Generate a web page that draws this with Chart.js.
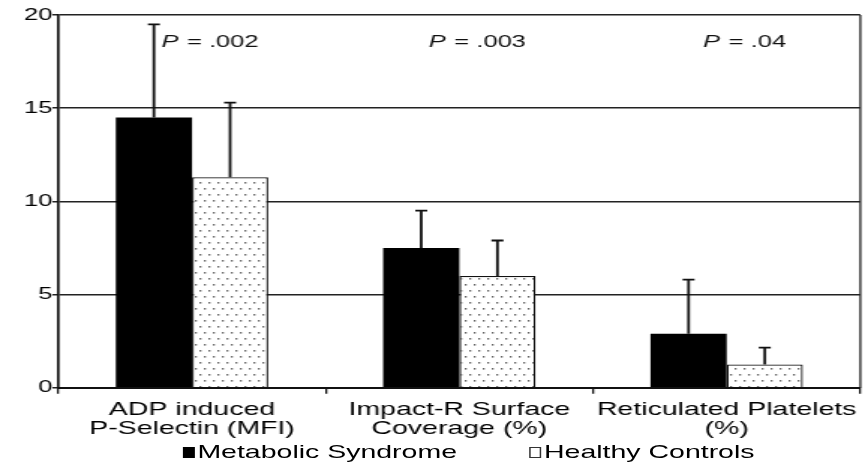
<!DOCTYPE html>
<html>
<head>
<meta charset="utf-8">
<script src="https://cdn.jsdelivr.net/npm/chart.js@4.4.1/dist/chart.umd.min.js"></script>
<style>
  body { margin: 0; background: #fff; overflow: hidden; }
  #wrap { width: 579px; height: 462px; transform: scaleX(1.4991); transform-origin: 0 0; }
  #box { position: relative; width: 579px; height: 445px; }
  #legend { display: flex; justify-content: center; gap: 48px; margin-left: 46px; margin-top: -3px;
            font: 19px "Liberation Sans", Arial, sans-serif; line-height: 20px; color: #000; }
  #legend span.sw { display: inline-block; width: 8.5px; height: 11px; margin-right: 1.5px; vertical-align: 0; box-sizing: border-box; }
</style>
</head>
<body>
<div id="wrap">
  <div id="box"><canvas id="barChart"></canvas></div>
  <div id="legend">
    <div><span class="sw" style="background:#000"></span>Metabolic Syndrome</div>
    <div><span class="sw" style="background:#fff;border:1.3px solid #333"></span>Healthy Controls</div>
  </div>
</div>
<script>
// Data
const categories = [
  ['ADP induced', 'P-Selectin (MFI)'],
  ['Impact-R Surface', 'Coverage (%)'],
  ['Reticulated Platelets', '(%)']
];
const metabolicMeans = [14.5, 7.5, 2.9];
const metabolicErrTop = [19.5, 9.5, 5.8];
const controlMeans = [11.3, 6.0, 1.25];
const controlErrTop = [15.3, 7.9, 2.15];
const pValues = ['.002', '.003', '.04'];
const yTicks = [0, 5, 10, 15, 20];

// white fill with grey dots, like the print pattern
function dotPattern() {
  const c = document.createElement('canvas');
  c.width = 6; c.height = 12;
  const g = c.getContext('2d');
  g.fillStyle = '#fff';
  g.fillRect(0, 0, 6, 12);
  g.fillStyle = '#666';
  g.fillRect(1, 2, 1.3, 1.6);
  g.fillRect(4, 8, 1.3, 1.6);
  return g.createPattern(c, 'repeat');
}

const errorBars = {
  id: 'errorBars',
  afterDatasetsDraw(chart) {
    const ctx = chart.ctx;
    const y = chart.scales.y;
    const tops = [metabolicErrTop, controlErrTop];
    ctx.save();
    ctx.strokeStyle = '#111';
    ctx.lineWidth = 1.8;
    chart.data.datasets.forEach((ds, di) => {
      chart.getDatasetMeta(di).data.forEach((bar, i) => {
        const yt = y.getPixelForValue(tops[di][i]);
        ctx.beginPath();
        ctx.moveTo(bar.x, bar.y);
        ctx.lineTo(bar.x, yt);
        ctx.moveTo(bar.x - 4, yt);
        ctx.lineTo(bar.x + 4, yt);
        ctx.stroke();
      });
    });
    ctx.restore();
  }
};

const extras = {
  id: 'extras',
  afterDraw(chart) {
    const ctx = chart.ctx;
    const a = chart.chartArea;
    const x = chart.scales.x;
    ctx.save();
    // right frame line
    ctx.strokeStyle = '#222';
    ctx.lineWidth = 1.3;
    ctx.beginPath();
    ctx.moveTo(a.right, a.top);
    ctx.lineTo(a.right, a.bottom);
    ctx.stroke();
    // p-value labels
    ctx.fillStyle = '#111';
    ctx.textBaseline = 'middle';
    const it = 'italic 17px "Liberation Sans", Arial, sans-serif';
    const rg = '17px "Liberation Sans", Arial, sans-serif';
    pValues.forEach((p, i) => {
      const cx = x.getPixelForValue(i) + 12;
      ctx.font = it;
      const w1 = ctx.measureText('P').width + 1;
      const rest = ' = ' + p;
      ctx.font = rg;
      const w2 = ctx.measureText(rest).width;
      const left = cx - (w1 + w2) / 2;
      ctx.font = it;
      ctx.fillText('P', left, 42);
      ctx.font = rg;
      ctx.fillText(rest, left + w1, 42);
    });
    ctx.restore();
  }
};

function createChart() {
  const ctx = document.getElementById('barChart').getContext('2d');
  new Chart(ctx, {
    type: 'bar',
    data: {
      labels: categories,
      datasets: [
        {
          label: 'Metabolic Syndrome',
          data: metabolicMeans,
          backgroundColor: '#000',
          borderWidth: 0
        },
        {
          label: 'Healthy Controls',
          data: controlMeans,
          backgroundColor: dotPattern(),
          borderColor: '#111',
          borderWidth: 1.3
        }
      ]
    },
    options: {
      responsive: true,
      maintainAspectRatio: false,
      animation: false,
      categoryPercentage: 0.57,
      barPercentage: 1.0,
      layout: { padding: { top: 15, right: 4, left: 16, bottom: 0 } },
      plugins: {
        legend: { display: false },
        tooltip: { enabled: false }
      },
      scales: {
        x: {
          grid: { display: true, drawOnChartArea: false, drawTicks: true, tickLength: 6, color: '#111', lineWidth: 1.3 },
          border: { display: true, color: '#111', width: 2 },
          ticks: {
            color: '#000',
            padding: 7,
            maxRotation: 0,
            font: { family: '"Liberation Sans", Arial, sans-serif', size: 19, lineHeight: 0.98 }
          }
        },
        y: {
          min: 0,
          max: 20,
          afterBuildTicks: axis => { axis.ticks = yTicks.map(v => ({ value: v })); },
          grid: { color: '#222', lineWidth: 1.5, drawTicks: true, tickLength: 4 },
          border: { display: true, color: '#111', width: 1.7 },
          ticks: {
            color: '#000',
            padding: 0,
            font: { family: '"Liberation Sans", Arial, sans-serif', size: 17 }
          }
        }
      }
    },
    plugins: [errorBars, extras]
  });
}

window.onload = createChart;
</script>
</body>
</html>
